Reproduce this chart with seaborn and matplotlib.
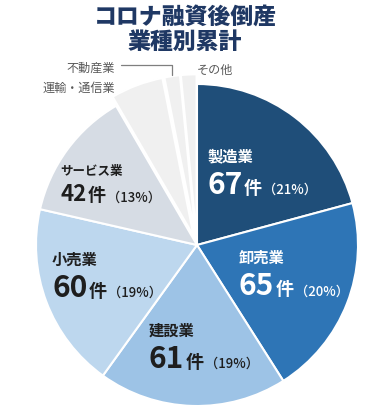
import numpy as np
import pandas as pd
import matplotlib
matplotlib.use("Agg")
import matplotlib.pyplot as plt
import seaborn as sns
from matplotlib.offsetbox import TextArea, HPacker, VPacker, AnnotationBbox

# data
industries = ["製造業", "卸売業", "建設業", "小売業", "サービス業", "運輸・通信業", "不動産業", "その他"]
counts = [67, 65, 61, 60, 42, 17, 5, 5]
percents = ["21%", "20%", "19%", "19%", "13%"]
slice_colors = ["#1f4e79", "#2e75b6", "#9dc3e6", "#bdd7ee", "#d6dce4", "#f0f0f0", "#f0f0f0", "#f0f0f0"]

sns.set_theme(style="white")
plt.rcParams["font.family"] = ["Noto Sans CJK JP", "DejaVu Sans"]

df = pd.DataFrame({"industry": industries, "count": counts})

fig = plt.figure(figsize=(3.87, 4.2), dpi=100)
# one data unit = 161 px, pie centre at (197, 245) px from top-left
ax = fig.add_axes([36 / 387, 14 / 420, 322 / 387, 322 / 420])
ax.axis("off")

explode = [0, 0, 0, 0, 0, 0.06, 0.06, 0.06]
wedges, _ = ax.pie(
    df["count"],
    startangle=90,
    counterclock=False,
    colors=sns.color_palette(slice_colors),
    explode=explode,
    wedgeprops=dict(edgecolor="white", linewidth=1.5),
)
for w in wedges:
    w.set_clip_on(False)
# pie() sets its own limits, so fix them afterwards
ax.set_xlim(-1, 1)
ax.set_ylim(-1, 1)
ax.set_aspect("equal")

# big labels inside the slices: (x, y) in data units, text colour, sizes
label_pos = [(0.065, 0.44), (0.26, -0.19), (-0.3, -0.64), (-0.9, -0.2), (-0.85, 0.37)]
label_color = ["white", "white", "#1e1e1e", "#1e1e1e", "#1e1e1e"]
name_size = [11, 11, 11, 11, 9]
num_size = [21.5, 21.5, 21.5, 21.5, 16]

for i in range(5):
    c = label_color[i]
    name = TextArea(industries[i], textprops=dict(color=c, fontsize=name_size[i], fontweight="bold"))
    line = HPacker(
        children=[
            TextArea(str(counts[i]), textprops=dict(color=c, fontsize=num_size[i], fontweight="bold")),
            TextArea("件", textprops=dict(color=c, fontsize=13, fontweight="bold")),
            TextArea("（" + percents[i] + "）", textprops=dict(color=c, fontsize=9.5, fontweight="medium")),
        ],
        align="baseline", pad=0, sep=1,
    )
    box = VPacker(children=[name, line], align="left", pad=0, sep=4)
    ab = AnnotationBbox(box, label_pos[i], xycoords="data", box_alignment=(0, 0.5),
                        frameon=False, pad=0)
    ab.set_clip_on(False)
    ax.add_artist(ab)

# small slices: outside labels
grey = "#595959"
ax.text(-0.51, 0.975, industries[5], ha="right", va="center", fontsize=8.7, color=grey, clip_on=False)
ax.text(-0.51, 1.10, industries[6], ha="right", va="center", fontsize=8.7, color=grey, clip_on=False)
ax.text(0.0, 1.087, industries[7], ha="left", va="center", fontsize=8.7, color=grey, clip_on=False)

# leader line to 不動産業 slice
w = wedges[6]
mid = np.deg2rad((w.theta1 + w.theta2) / 2)
cx, cy = w.center
tip_x = cx + w.r * np.cos(mid)
tip_y = cy + w.r * np.sin(mid)
ax.plot([-0.472, tip_x, tip_x], [1.118, 1.118, tip_y + 0.01], color="#7f7f7f", lw=0.9, clip_on=False)

fig.text(185 / 387, 1 - 30 / 420, "コロナ融資後倒産\n業種別累計", ha="center", va="center",
         fontsize=16.5, fontweight="heavy", color="#1f3864", linespacing=1.1)

fig.savefig("out.png", dpi=100)
